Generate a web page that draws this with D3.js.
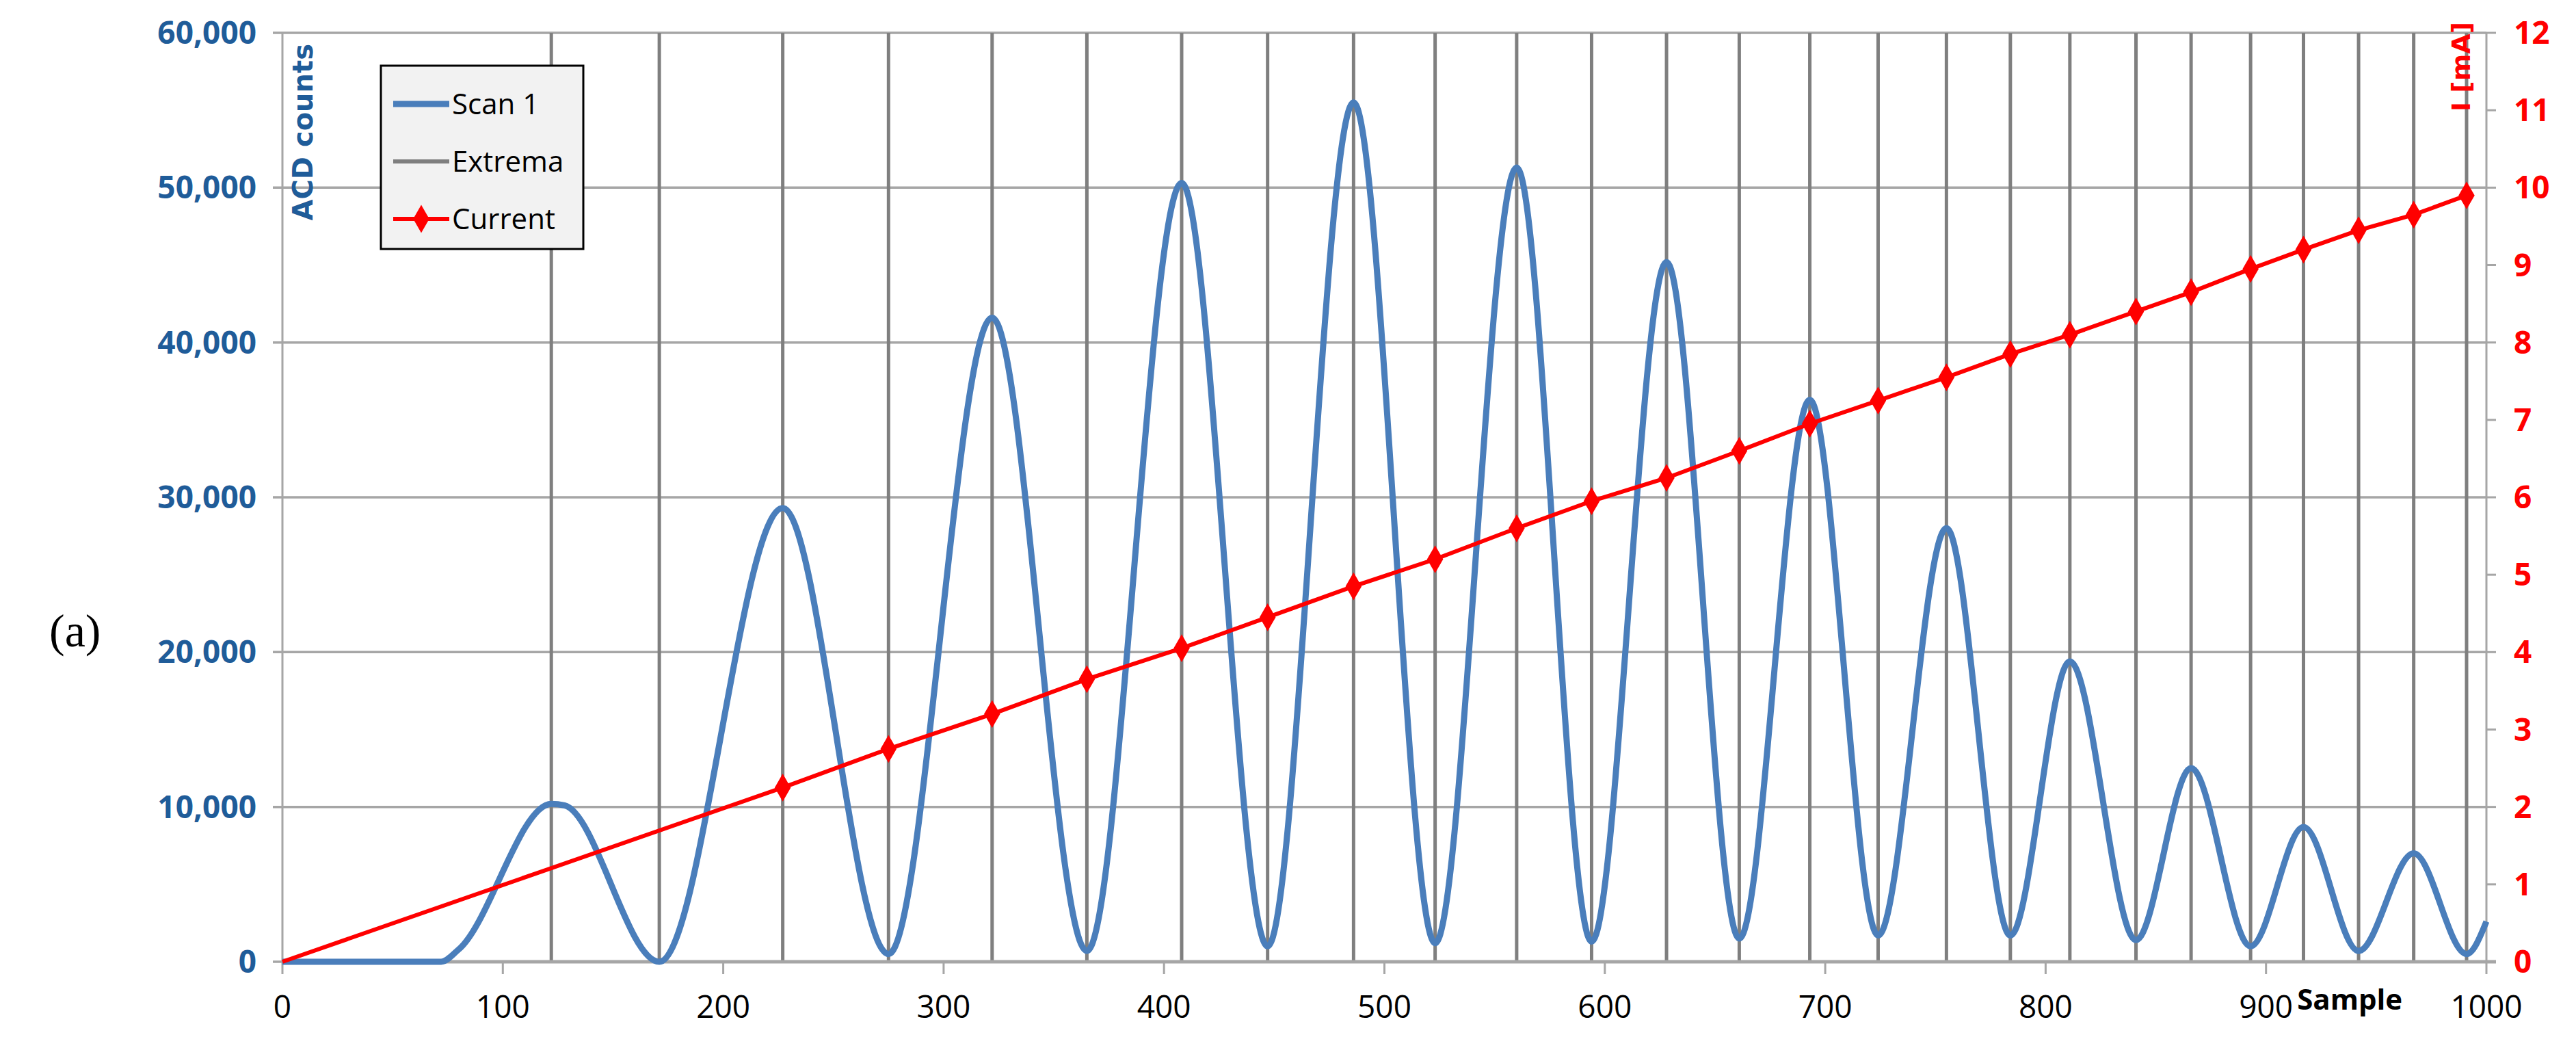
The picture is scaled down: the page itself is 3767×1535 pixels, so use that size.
<!DOCTYPE html>
<html>
<head>
<meta charset="utf-8">
<script src="https://cdn.jsdelivr.net/npm/d3@7"></script>
<style>
  body { margin: 0; background: #fff; }
  text { font-family: "Liberation Sans Narrow", "Open Sans", sans-serif; }
</style>
</head>
<body>
<div id="chart"></div>
<script>
// extrema sample positions (vertical grey lines)
var extrema = [122, 171, 227, 275, 322, 365, 408, 447, 486, 523, 560, 594, 628,
               661, 693, 724, 755, 784, 811, 841, 866, 893, 917, 942, 967, 991];

// scan 1 (sample, ACD counts) read at key points
var scanX = [0, 72, 80, 122, 128, 171, 227, 275, 322, 365, 408, 447, 486, 523, 560, 594,
             628, 661, 693, 724, 755, 784, 811, 841, 866, 893, 917, 942, 967, 991, 1000];
var scanY = [0, 0, 800, 10200, 10100, 0, 29300, 500, 41600, 700, 50300, 1000, 55500, 1200,
             51300, 1300, 45200, 1500, 36300, 1700, 28000, 1700, 19400, 1400, 12500, 1000,
             8700, 700, 7000, 500, 2600];

// current (sample, mA); first point has no marker
var curX = [0, 227, 275, 322, 365, 408, 447, 486, 523, 560, 594, 628, 661, 693, 724,
            755, 784, 811, 841, 866, 893, 917, 942, 967, 991];
var curY = [0, 2.25, 2.75, 3.2, 3.65, 4.05, 4.45, 4.85, 5.2, 5.6, 5.95, 6.25, 6.6, 6.95,
            7.25, 7.55, 7.85, 8.1, 8.4, 8.65, 8.95, 9.2, 9.45, 9.65, 9.9];

var xTicks = [0, 100, 200, 300, 400, 500, 600, 700, 800, 900, 1000];
var yTicks = [0, 10000, 20000, 30000, 40000, 50000, 60000];
var y2Ticks = [0, 1, 2, 3, 4, 5, 6, 7, 8, 9, 10, 11, 12];

var W = 3767, H = 1535;
var margin = {top: 48, right: 131, bottom: 129, left: 413},
    width = W - margin.left - margin.right,
    height = H - margin.top - margin.bottom;

var root = d3.select("#chart").append("svg")
    .attr("width", W).attr("height", H);

var svg = root.append("g")
    .attr("transform", "translate(" + margin.left + "," + margin.top + ")");

var x = d3.scaleLinear().domain([0, 1000]).range([0, width]);
var y = d3.scaleLinear().domain([0, 60000]).range([height, 0]);
var y2 = d3.scaleLinear().domain([0, 12]).range([height, 0]);

// horizontal grid
svg.selectAll(".hgrid").data(yTicks).enter().append("line")
    .attr("x1", -14).attr("x2", width)
    .attr("y1", function(d) { return y(d); }).attr("y2", function(d) { return y(d); })
    .attr("stroke", "#a6a6a6").attr("stroke-width", 3.5);

// left axis line
svg.append("line").attr("x1", 0).attr("x2", 0).attr("y1", 0).attr("y2", height)
    .attr("stroke", "#a6a6a6").attr("stroke-width", 3);

// extrema lines
svg.selectAll(".ext").data(extrema).enter().append("line")
    .attr("x1", function(d) { return x(d); }).attr("x2", function(d) { return x(d); })
    .attr("y1", 0).attr("y2", height)
    .attr("stroke", "#7f7f7f").attr("stroke-width", 5);

// right axis
svg.append("line").attr("x1", width).attr("x2", width).attr("y1", 0).attr("y2", height)
    .attr("stroke", "#a6a6a6").attr("stroke-width", 3);
svg.selectAll(".rt").data(y2Ticks).enter().append("line")
    .attr("x1", width).attr("x2", width + 14)
    .attr("y1", function(d) { return y2(d); }).attr("y2", function(d) { return y2(d); })
    .attr("stroke", "#a6a6a6").attr("stroke-width", 3);

// x axis line and ticks
svg.append("line").attr("x1", 0).attr("x2", width + 14).attr("y1", height).attr("y2", height)
    .attr("stroke", "#a6a6a6").attr("stroke-width", 5);
svg.selectAll(".xt").data(xTicks).enter().append("line")
    .attr("x1", function(d) { return x(d); }).attr("x2", function(d) { return x(d); })
    .attr("y1", height).attr("y2", height + 18)
    .attr("stroke", "#a6a6a6").attr("stroke-width", 3);

// tick labels
svg.selectAll(".xl").data(xTicks).enter().append("text")
    .attr("x", function(d) { return x(d); }).attr("y", height + 82)
    .attr("text-anchor", "middle").attr("font-size", 46).attr("fill", "#000")
    .text(function(d) { return d; });

svg.selectAll(".yl").data(yTicks).enter().append("text")
    .attr("x", -38).attr("y", function(d) { return y(d) + 16; })
    .attr("text-anchor", "end").attr("font-size", 46).attr("font-weight", "bold")
    .attr("fill", "#1f5c99")
    .text(function(d) { return d3.format(",")(d); });

svg.selectAll(".y2l").data(y2Ticks).enter().append("text")
    .attr("x", width + 40).attr("y", function(d) { return y2(d) + 16; })
    .attr("text-anchor", "start").attr("font-size", 46).attr("font-weight", "bold")
    .attr("fill", "#ff0000")
    .text(function(d) { return d; });

// axis titles
svg.append("text")
    .attr("transform", "translate(44,16) rotate(-90)")
    .attr("text-anchor", "end").attr("font-size", 40).attr("font-weight", "bold")
    .attr("fill", "#1f5c99").style("font-family", "'DejaVu Sans', sans-serif")
    .text("ACD counts");
svg.append("text")
    .attr("transform", "translate(" + (width - 24) + ",-16) rotate(-90)")
    .attr("text-anchor", "end").attr("font-size", 38).attr("font-weight", "bold")
    .attr("fill", "#ff0000").style("font-family", "'DejaVu Sans', sans-serif")
    .text("I [mA]");
svg.append("text")
    .attr("x", x(938)).attr("y", height + 70)
    .attr("text-anchor", "middle").attr("font-size", 42).attr("font-weight", "bold")
    .text("Sample");

// scan line
var scan = scanX.map(function(d, i) { return {x: d, y: scanY[i]}; });
svg.append("path").datum(scan)
    .attr("d", d3.line().curve(d3.curveMonotoneX)
      .x(function(d) { return x(d.x); })
      .y(function(d) { return y(d.y); }))
    .attr("fill", "none").attr("stroke", "#4a7ebb").attr("stroke-width", 9);

// current line
var cur = curX.map(function(d, i) { return {x: d, y: curY[i]}; });
svg.append("path").datum(cur)
    .attr("d", d3.line()
      .x(function(d) { return x(d.x); })
      .y(function(d) { return y2(d.y); }))
    .attr("fill", "none").attr("stroke", "#ff0000").attr("stroke-width", 6);
var diamond = d3.symbol().type(d3.symbolDiamond).size(480);
svg.selectAll(".mk").data(cur.slice(1)).enter().append("path")
    .attr("d", diamond)
    .attr("transform", function(d) { return "translate(" + x(d.x) + "," + y2(d.y) + ")"; })
    .attr("fill", "#ff0000");

// legend
var lg = root.append("g").attr("transform", "translate(557,96)");
lg.append("rect").attr("width", 296).attr("height", 268)
    .attr("fill", "#f2f2f2").attr("stroke", "#000").attr("stroke-width", 3);
var items = [
  {name: "Scan 1", color: "#4a7ebb", w: 9},
  {name: "Extrema", color: "#7f7f7f", w: 6},
  {name: "Current", color: "#ff0000", w: 6}
];
items.forEach(function(it, i) {
  var yy = 56 + i * 84;
  lg.append("line").attr("x1", 18).attr("x2", 100).attr("y1", yy).attr("y2", yy)
    .attr("stroke", it.color).attr("stroke-width", it.w);
  if (it.name === "Current") {
    lg.append("path").attr("d", d3.symbol().type(d3.symbolDiamond).size(480))
      .attr("transform", "translate(59," + yy + ")").attr("fill", "#ff0000");
  }
  lg.append("text").attr("x", 104).attr("y", yy + 15)
    .attr("font-size", 42).attr("fill", "#000").text(it.name);
});

// panel label
root.append("text").attr("x", 72).attr("y", 945)
    .attr("font-size", 68).style("font-family", "'Liberation Serif', serif")
    .text("(a)");
</script>
</body>
</html>
